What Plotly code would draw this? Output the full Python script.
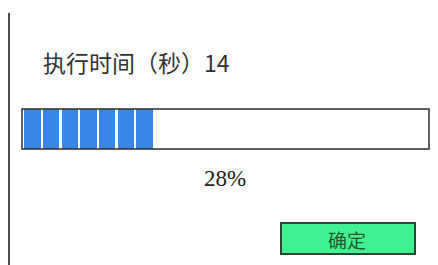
import plotly.graph_objects as go

# ---- data ----
time_label = "执行时间（秒）"
elapsed_seconds = 14
progress_pct = 28
filled_segments = [1, 1, 1, 1, 1, 1, 1]   # 7 filled blocks
segment_capacity = 21.75                  # blocks that fit in the full bar
button_text = "确定"

W, H = 438, 265

def px(x):
    return x / W

def py(y):
    return 1 - y / H

bar_left, bar_right, bar_top, bar_bottom = 22, 429, 109, 149

fig = go.Figure()
fig.add_trace(go.Bar(
    x=[i + 0.5 for i in range(len(filled_segments))],
    y=filled_segments,
    width=0.88,
    marker=dict(color="#3a86e6", line=dict(width=0)),
    hoverinfo="skip",
    showlegend=False,
))

fig.update_layout(
    width=W, height=H,
    margin=dict(l=0, r=0, t=0, b=0),
    paper_bgcolor="white", plot_bgcolor="white",
    xaxis=dict(domain=[px(bar_left), px(bar_right)], range=[-0.06, segment_capacity],
               visible=False, fixedrange=True),
    yaxis=dict(domain=[py(bar_bottom), py(bar_top)], range=[0, 1],
               visible=False, fixedrange=True),
    bargap=0,
    shapes=[
        # left vertical line
        dict(type="line", xref="paper", yref="paper", x0=px(9), x1=px(9),
             y0=py(13), y1=py(265), line=dict(color="#4a4a4a", width=2)),
        # progress frame
        dict(type="rect", xref="paper", yref="paper", layer="above",
             x0=px(bar_left), x1=px(bar_right), y0=py(bar_bottom), y1=py(bar_top),
             line=dict(color="#2e2e2e", width=1.5), fillcolor="rgba(0,0,0,0)"),
        # button
        dict(type="rect", xref="paper", yref="paper",
             x0=px(281), x1=px(415), y0=py(254), y1=py(223),
             line=dict(color="#2b4636", width=2), fillcolor="#40f091"),
    ],
    annotations=[
        dict(text=f"{time_label}{elapsed_seconds}", xref="paper", yref="paper",
             x=px(41), y=py(62), xanchor="left", yanchor="middle", showarrow=False,
             font=dict(family="Noto Sans CJK SC", size=23, color="#333333")),
        dict(text=f"{progress_pct}%", xref="paper", yref="paper",
             x=px(225), y=py(178), xanchor="center", yanchor="middle", showarrow=False,
             font=dict(family="Liberation Serif", size=23, color="#222222")),
        dict(text=button_text, xref="paper", yref="paper",
             x=px(347), y=py(239), xanchor="center", yanchor="middle", showarrow=False,
             font=dict(family="Noto Sans CJK SC", size=19, color="#1d5e2c")),
    ],
)

fig.write_html("out.html", config={"displayModeBar": False},
               post_script="document.body.style.margin='0';document.body.style.overflow='hidden';")
